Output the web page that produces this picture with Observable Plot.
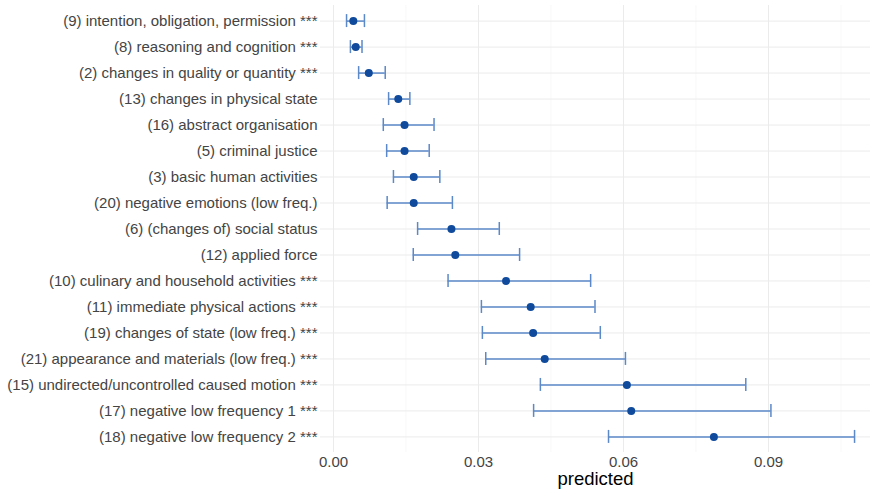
<!DOCTYPE html>
<html>
<head>
<meta charset="utf-8">
<script src="https://cdn.jsdelivr.net/npm/d3@7"></script>
<script src="https://cdn.jsdelivr.net/npm/@observablehq/plot@0.6"></script>
<style>
  html, body { margin: 0; padding: 0; background: white; }
</style>
</head>
<body>
<div id="chart"></div>
<script>
const categories = [
  "(9) intention, obligation, permission ***",
  "(8) reasoning and cognition ***",
  "(2) changes in quality or quantity ***",
  "(13) changes in physical state",
  "(16) abstract organisation",
  "(5) criminal justice",
  "(3) basic human activities",
  "(20) negative emotions (low freq.)",
  "(6) (changes of) social status",
  "(12) applied force",
  "(10) culinary and household activities ***",
  "(11) immediate physical actions ***",
  "(19) changes of state (low freq.) ***",
  "(21) appearance and materials (low freq.) ***",
  "(15) undirected/uncontrolled caused motion ***",
  "(17) negative low frequency 1 ***",
  "(18) negative low frequency 2 ***"
];
const predicted = [0.0041, 0.0046, 0.0073, 0.0134, 0.0147, 0.0147, 0.0166, 0.0166, 0.0244, 0.0252, 0.0357, 0.0408, 0.0413, 0.0437, 0.0607, 0.0616, 0.0787];
const lower     = [0.0027, 0.0035, 0.0052, 0.0114, 0.0103, 0.0110, 0.0124, 0.0111, 0.0174, 0.0165, 0.0237, 0.0306, 0.0308, 0.0315, 0.0428, 0.0414, 0.0569];
const upper     = [0.0064, 0.0059, 0.0107, 0.0158, 0.0208, 0.0198, 0.0220, 0.0246, 0.0343, 0.0385, 0.0532, 0.0541, 0.0552, 0.0604, 0.0853, 0.0905, 0.1078];
const majorTicks = [0, 0.03, 0.06, 0.09];
const minorTicks = [0.015, 0.045, 0.075, 0.105];

const data = categories.map((c, i) => ({category: c, predicted: predicted[i], lower: lower[i], upper: upper[i]}));

const errColor = "#5a88c8";
const pointColor = "#0f4a9c";
const gridColor = "#ebebeb";

const chart = Plot.plot({
  width: 876,
  height: 490,
  marginTop: 5,
  marginBottom: 38,
  marginLeft: 320,
  marginRight: 6,
  style: {fontFamily: "'Liberation Sans', Arial, Helvetica, sans-serif", fontSize: "15px", background: "white", color: "#444444"},
  x: {domain: [-0.00269, 0.1111]},
  y: {type: "band", domain: categories, paddingInner: 0.5, paddingOuter: 0.35, round: false},
  marks: [
    Plot.ruleX(minorTicks, {x: d => d, stroke: "#f3f3f3", strokeWidth: 0.6}),
    Plot.ruleX(majorTicks, {x: d => d, stroke: gridColor, strokeWidth: 1}),
    Plot.ruleY(categories, {y: d => d, stroke: gridColor, strokeWidth: 1}),
    Plot.ruleY(data, {y: "category", x1: "lower", x2: "upper", stroke: errColor, strokeWidth: 1.5}),
    Plot.tickX(data, {x: "lower", y: "category", stroke: errColor, strokeWidth: 1.5}),
    Plot.tickX(data, {x: "upper", y: "category", stroke: errColor, strokeWidth: 1.5}),
    Plot.dot(data, {x: "predicted", y: "category", r: 4, fill: pointColor, stroke: "none"}),
    Plot.axisY({tickSize: 0, tickPadding: 3, label: null, fontSize: 15, fill: "#444444"}),
    Plot.axisX({ticks: majorTicks, tickFormat: d3.format(".2f"), tickSize: 0, tickPadding: 4, label: null, fontSize: 15, fill: "#444444"}),
    Plot.text(["predicted"], {text: d => d, frameAnchor: "bottom", dy: 27, fontSize: 18.5, fill: "black", lineAnchor: "middle"})
  ]
});
document.getElementById("chart").appendChild(chart);
</script>
</body>
</html>
